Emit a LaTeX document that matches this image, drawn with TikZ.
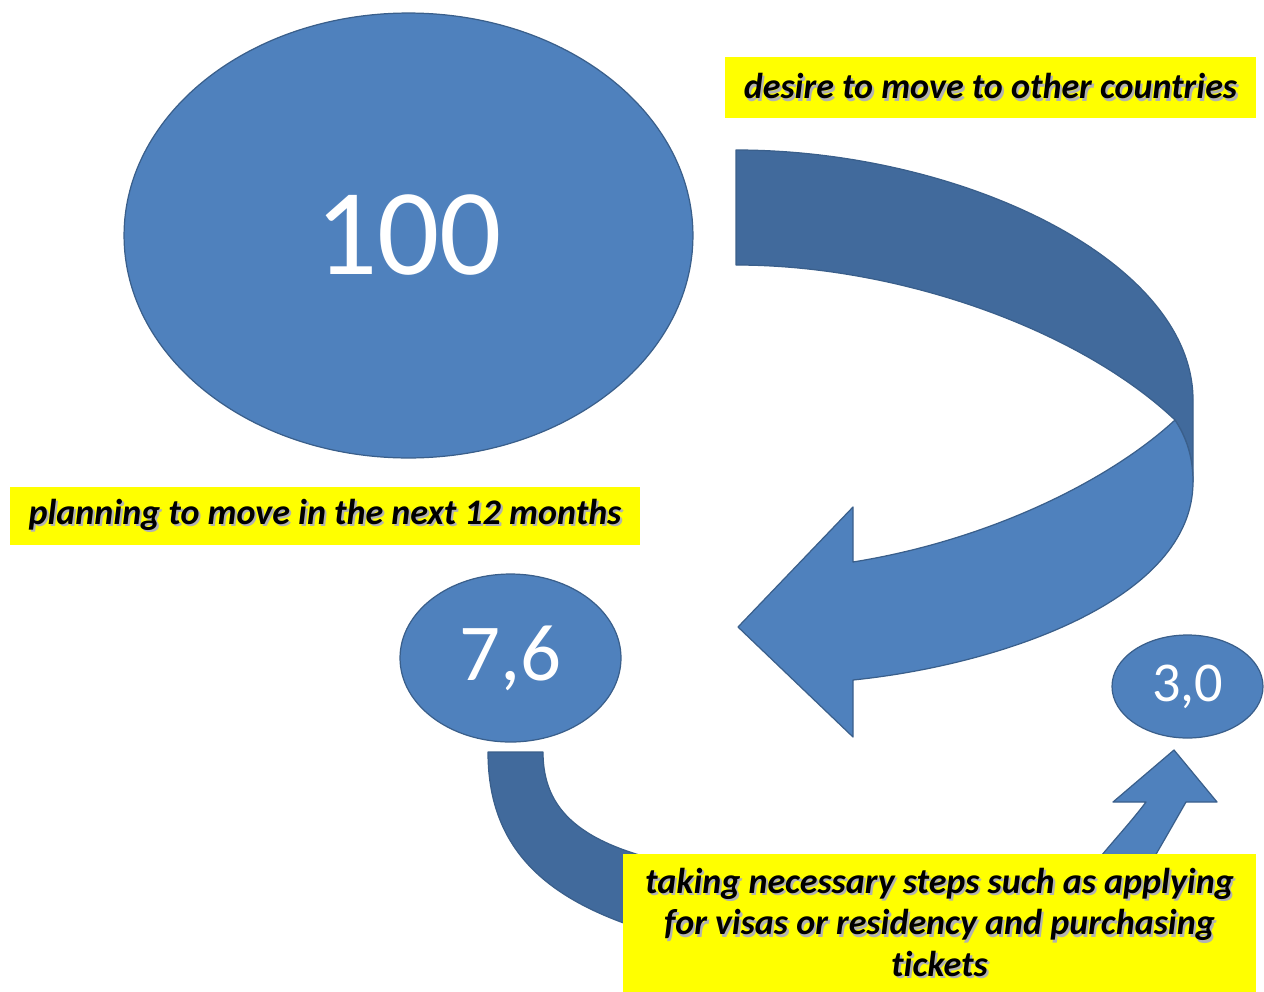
\documentclass[tikz,border=0pt]{standalone}
\usepackage{fontspec}
\setmainfont{Carlito}[Ligatures=NoCommon]
\usetikzlibrary{shapes.geometric}
\definecolor{blueF}{HTML}{4F81BD}
\definecolor{blueD}{HTML}{416A9C}
\definecolor{blueB}{HTML}{3A5F8B}
\definecolor{hl}{HTML}{FFFF00}
\newcommand\shd[1]{\leavevmode\rlap{\kern1.2pt\raisebox{-1.2pt}{\textcolor{black!30}{#1}}}#1}
\begin{document}
\begin{tikzpicture}[x=0.02cm,y=-0.02cm,
  blob/.style={ellipse,fill=blueF,draw=blueB,line width=0.7pt,text=white,inner sep=0pt},
  band/.style={fill=blueF,draw=blueB,line width=0.7pt,line join=round},
  bandback/.style={fill=blueD,draw=blueB,line width=0.7pt,line join=round},
  tag/.style={fill=hl,font=\fontsize{20.5}{23.8}\selectfont\bfseries\itshape,inner sep=0pt,align=center}]
\useasboundingbox (0,0) rectangle (1264,991);

% ellipses
\node[blob, minimum width=11.38cm, minimum height=8.9cm, font=\fontsize{70}{70}\selectfont] (n100) at (408.5,235.5) {100};
\node[blob, minimum width=4.42cm, minimum height=3.36cm, font=\fontsize{46}{46}\selectfont] (n76) at (510.5,658) {7,6};
\node[blob, minimum width=3.02cm, minimum height=2.06cm, font=\fontsize{32}{32}\selectfont] (n30) at (1187.5,686.5) {3,0};

% big curved arrow: back (dark) part
\path[bandback] (736,150) .. controls (960,150) and (1193,260) .. (1193,400) -- (1193,482)
  .. controls (1193,460) and (1188,440) .. (1175,420)
  .. controls (1080,330) and (900,265) .. (736,265) -- cycle;
% big curved arrow: front (light) part with head
\path[band] (1175,420) .. controls (1188,440) and (1193,460) .. (1193,482)
  .. controls (1193,600) and (1000,665) .. (853,680) -- (853,737) -- (738,627) -- (853,507) -- (853,562)
  .. controls (990,540) and (1110,480) .. (1175,420) -- cycle;

% lower arrow: back band below 7,6
\path[bandback] (488,752) -- (543,752) .. controls (543,810) and (580,845) .. (680,865)
  -- (680,940) .. controls (560,910) and (488,860) .. (488,752) -- cycle;
% lower arrow: head towards 3,0
\path[band] (1174,750) -- (1217,802) -- (1186,802) .. controls (1170,830) and (1150,865) .. (1135,890)
  -- (1075,890) .. controls (1095,860) and (1125,830) .. (1146,802) -- (1113,802) -- cycle;

% yellow labels
\node[tag, minimum width=10.62cm, minimum height=1.22cm] (desire) at (990.5,87.5) {\shd{desire to move to other countries}};
\node[tag, minimum width=12.6cm, minimum height=1.16cm] (plan) at (325,516) {\shd{planning to move in the next 12 months}};
\node[tag, minimum width=12.66cm, minimum height=2.78cm] (steps) at (939.5,923.5) {\shd{taking necessary steps such as applying}\\\shd{for visas or residency and purchasing}\\\shd{tickets}};
\end{tikzpicture}
\end{document}
